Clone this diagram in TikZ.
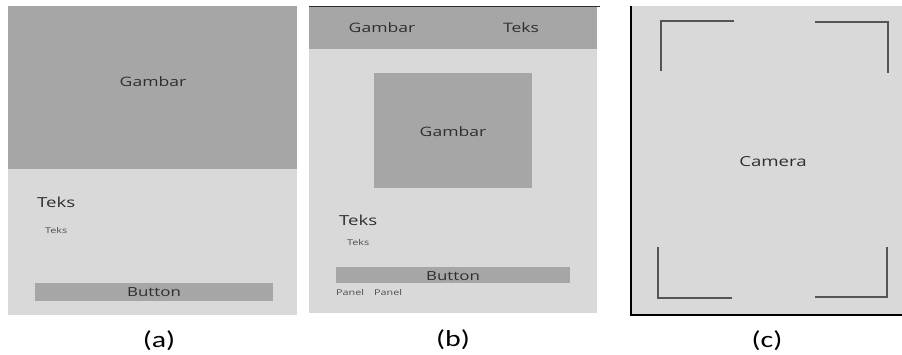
\documentclass[tikz,border=0pt]{standalone}
\usepackage{fontspec}
\setmainfont{Open Sans}
\newfontfamily\uifont[FakeStretch=1.35]{Open Sans}
\newfontfamily\captionfnt[FakeStretch=1.3]{Carlito}
\definecolor{dark}{HTML}{A6A6A6}
\definecolor{light}{HTML}{D9D9D9}
\definecolor{ink}{HTML}{2E2E2E}
\definecolor{lineg}{HTML}{555555}
\begin{document}
\begin{tikzpicture}[x=1pt,y=-1pt,
  lbl/.style={inner sep=0pt,text=ink,font=\uifont\fontsize{13}{15}\selectfont},
  lblbig/.style={inner sep=0pt,text=ink,font=\uifont\fontsize{13.8}{16}\selectfont},
  lblsmall/.style={inner sep=0pt,text=ink!85,font=\uifont\fontsize{8}{10}\selectfont},
  btntext/.style={inner sep=0pt,text=ink,font=\uifont\fontsize{12.5}{14}\selectfont},
  captxt/.style={inner sep=0pt,text=black,font=\captionfnt\fontsize{23}{27}\selectfont},
  corner/.style={draw=lineg,line width=1.4pt}]
\useasboundingbox (0,0) rectangle (902,354);
\fill[white] (0,0) rectangle (902,354);
\begin{scope}
\clip (0,0) rectangle (902,354);
% ---------- (a)
\fill[light] (8,6) rectangle (297,315);
\fill[dark] (8,6) rectangle (297,169);
\node[lbl,anchor=base] (ag) at (153,86) {Gambar};
\node[lblbig,anchor=base west] (at1) at (37,207) {Teks};
\node[lblsmall,anchor=base west] (at2) at (45,233) {Teks};
\fill[dark] (35,283) rectangle (273,301);
\node[btntext,anchor=base] (ab) at (154,296) {Button};
\node[captxt,anchor=base] (ca) at (159,347.5) {(a)};
% ---------- (b)
\fill[light] (309,6) rectangle (597,313);
\fill[dark] (309,6) rectangle (597,49);
\draw[ink,line width=1pt] (309,6) -- (600,6);
\node[lbl,anchor=base] (bg1) at (382,32) {Gambar};
\node[lbl,anchor=base] (bt1) at (521,32) {Teks};
\fill[dark] (374,73) rectangle (532,188);
\node[lbl,anchor=base] (bg2) at (453,136) {Gambar};
\node[lblbig,anchor=base west] (bt2) at (339,225) {Teks};
\node[lblsmall,anchor=base west] (bt3) at (347,245) {Teks};
\fill[dark] (336,267) rectangle (570,283);
\node[btntext,anchor=base] (bb) at (453,280) {Button};
\node[lblsmall,anchor=base west] (bp1) at (336,295) {Panel};
\node[lblsmall,anchor=base west] (bp2) at (374,295) {Panel};
\node[captxt,anchor=base] (cb) at (453,346) {(b)};
% ---------- (c)
\fill[light] (631,6) rectangle (902,315);
\draw[black,line width=1.5pt] (631,6) -- (631,315) -- (902,315);
\node[lblbig,anchor=base] (cc) at (773,166) {Camera};
\draw[corner] (661,71) -- (661,21) -- (734,21);
\draw[corner] (815,22) -- (888,22) -- (888,73);
\draw[corner] (658,247) -- (658,298) -- (732,298);
\draw[corner] (887,247) -- (887,297) -- (815,297);
\node[captxt,anchor=base] (ccap) at (767,347.5) {(c)};
\end{scope}
\end{tikzpicture}
\end{document}
